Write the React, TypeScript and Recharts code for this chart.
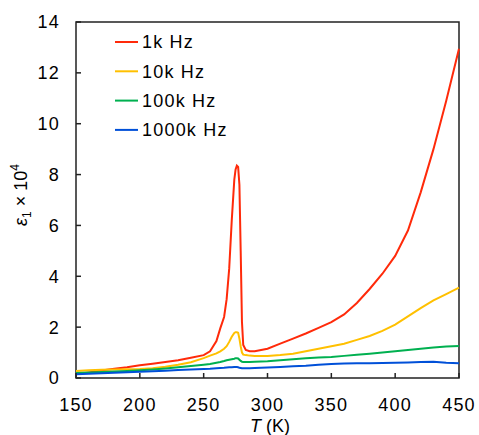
import { LineChart, Line, XAxis, YAxis, ReferenceArea } from 'recharts';

const TEMPS = [
  150, 160, 170, 180, 190, 200, 210, 220, 230, 240, 250, 255, 260, 263, 266, 268, 270, 272, 274, 275,
  276, 277, 278, 279, 280, 281, 283, 286, 290, 295, 300, 310, 320, 330, 340, 350, 360, 370, 380, 390,
  400, 410, 420, 430, 440, 450,
];

const EPS_1K = [
  0.15, 0.22, 0.3, 0.36, 0.42, 0.5, 0.56, 0.63, 0.7, 0.8, 0.9, 1.05, 1.45, 1.95, 2.4, 3.1, 4.3, 6.2, 7.8, 8.2,
  8.35, 8.3, 7.6, 5.0, 2.2, 1.3, 1.1, 1.05, 1.05, 1.1, 1.15, 1.35, 1.55, 1.75, 1.97, 2.2, 2.5, 2.95, 3.5, 4.1,
  4.8, 5.8, 7.3, 9.0, 10.9, 12.95,
];

const EPS_10K = [
  0.28, 0.3, 0.32, 0.33, 0.34, 0.35, 0.38, 0.44, 0.52, 0.62, 0.78, 0.88, 0.97, 1.05, 1.15, 1.25, 1.42, 1.62, 1.77, 1.8,
  1.8, 1.78, 1.55, 1.25, 1.0, 0.92, 0.9, 0.88, 0.87, 0.87, 0.87, 0.9, 0.95, 1.05, 1.15, 1.25, 1.35, 1.5, 1.65, 1.85,
  2.1, 2.42, 2.75, 3.05, 3.3, 3.55,
];

const EPS_100K = [
  0.2, 0.22, 0.24, 0.26, 0.28, 0.3, 0.33, 0.37, 0.42, 0.47, 0.52, 0.55, 0.6, 0.63, 0.67, 0.7, 0.72, 0.74, 0.76, 0.78,
  0.78, 0.77, 0.72, 0.67, 0.64, 0.63, 0.63, 0.63, 0.64, 0.65, 0.66, 0.7, 0.74, 0.78, 0.81, 0.83, 0.87, 0.91, 0.95, 1.0,
  1.05, 1.1, 1.15, 1.2, 1.24, 1.26,
];

const EPS_1000K = [
  0.15, 0.17, 0.19, 0.21, 0.23, 0.25, 0.27, 0.29, 0.31, 0.33, 0.35, 0.36, 0.38, 0.39, 0.4, 0.41, 0.42, 0.42, 0.43, 0.43,
  0.43, 0.42, 0.4, 0.39, 0.38, 0.38, 0.38, 0.38, 0.39, 0.4, 0.41, 0.43, 0.46, 0.48, 0.52, 0.55, 0.57, 0.58, 0.58, 0.59,
  0.6, 0.61, 0.63, 0.64, 0.6, 0.58,
];

const X_TICKS = [150, 200, 250, 300, 350, 400, 450];
const Y_TICKS = [0, 2, 4, 6, 8, 10, 12, 14];

const SERIES = [
  { key: 'f1k', name: '1k Hz', color: '#ff2a0a' },
  { key: 'f10k', name: '10k Hz', color: '#ffc000' },
  { key: 'f100k', name: '100k Hz', color: '#00b050' },
  { key: 'f1000k', name: '1000k Hz', color: '#0050d8' },
];

const data = TEMPS.map((t, i) => ({
  T: t,
  f1k: EPS_1K[i],
  f10k: EPS_10K[i],
  f100k: EPS_100K[i],
  f1000k: EPS_1000K[i],
}));

const FONT = 'Arial, "Liberation Sans", sans-serif';
const AXIS = '#222';
const textStyle = { fontSize: 18, fill: '#000', fontFamily: FONT, letterSpacing: 1.2 };

// ticks point inward, so draw the tick mark together with the label
const X_GAP = 20;
const Y_GAP = 16;

function XTick(props: any) {
  const { x, y, payload } = props;
  return (
    <g>
      <line x1={x} x2={x} y1={y - X_GAP} y2={y - X_GAP - 5} stroke={AXIS} strokeWidth={1.5} />
      <text x={x} y={y} dy="0.72em" textAnchor="middle" style={textStyle}>
        {payload.value}
      </text>
    </g>
  );
}

function YTick(props: any) {
  const { x, y, payload } = props;
  return (
    <g>
      <line x1={x + Y_GAP} x2={x + Y_GAP + 5} y1={y} y2={y} stroke={AXIS} strokeWidth={1.5} />
      <text x={x} y={y} dy="0.36em" textAnchor="end" style={textStyle}>
        {payload.value}
      </text>
    </g>
  );
}

// legend drawn inside the plot, top-left
function InnerLegend() {
  return (
    <g>
      {SERIES.map((s, i) => {
        const y = 42 + i * 29.3;
        return (
          <g key={s.key}>
            <line x1={115} x2={138} y1={y} y2={y} stroke={s.color} strokeWidth={2} />
            <text x={142} y={y} dy="0.36em" style={textStyle}>
              {s.name}
            </text>
          </g>
        );
      })}
    </g>
  );
}

function YLabel() {
  return (
    <text
      transform="translate(27,195) rotate(-90)"
      textAnchor="middle"
      style={{ fontSize: 18, fontFamily: FONT, fill: '#000' }}
    >
      <tspan fontStyle="italic">ε</tspan>
      <tspan fontSize={12} dy={4}>1</tspan>
      <tspan dy={-4}> × 10</tspan>
      <tspan fontSize={12} dy={-8}>4</tspan>
    </text>
  );
}

function XLabel() {
  return (
    <text x={270} y={432} textAnchor="middle" style={{ fontSize: 18, fontFamily: FONT, fill: '#000' }}>
      <tspan fontStyle="italic">T</tspan>
      <tspan> (K)</tspan>
    </text>
  );
}

export default function App() {
  return (
    <div style={{ position: 'absolute', left: 0, top: 0, background: '#fff' }}>
      <LineChart width={479} height={435} data={data} margin={{ top: 22, right: 20, bottom: 17, left: 16 }}>
        <XAxis
          dataKey="T"
          type="number"
          domain={[150, 450]}
          ticks={X_TICKS}
          tickSize={0}
          tickMargin={X_GAP}
          axisLine={false}
          tickLine={false}
          tick={<XTick />}
          height={40}
        />
        <YAxis
          type="number"
          domain={[0, 14]}
          ticks={Y_TICKS}
          tickSize={0}
          tickMargin={Y_GAP}
          axisLine={false}
          tickLine={false}
          tick={<YTick />}
          width={60}
        />
        <ReferenceArea x1={150} x2={450} y1={0} y2={14} fill="none" stroke={AXIS} strokeWidth={1.5} />
        {SERIES.map((s) => (
          <Line
            key={s.key}
            dataKey={s.key}
            name={s.name}
            stroke={s.color}
            strokeWidth={2}
            dot={false}
            type="linear"
            isAnimationActive={false}
          />
        ))}
        <InnerLegend />
        <YLabel />
        <XLabel />
      </LineChart>
    </div>
  );
}
